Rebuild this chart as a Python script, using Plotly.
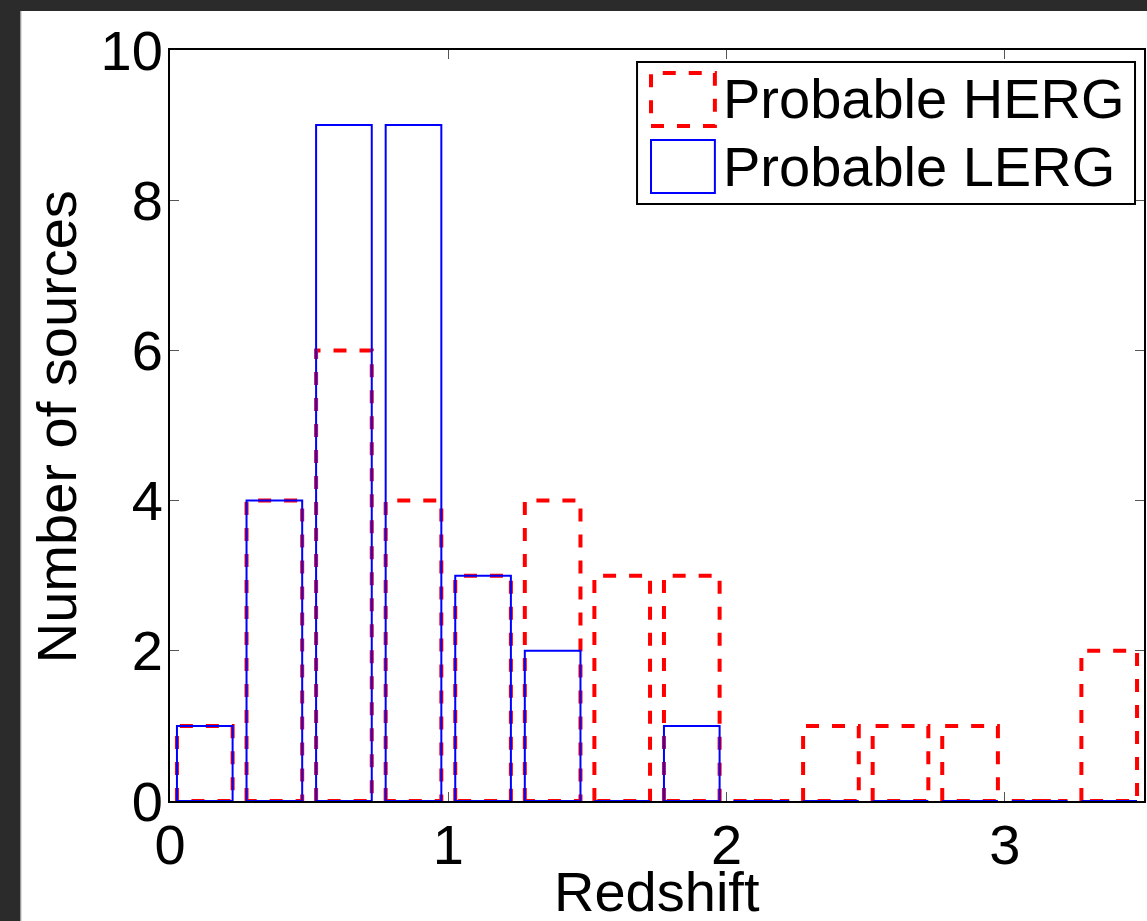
import plotly.graph_objects as go

# ---- data ----
bin_centers = [0.125, 0.375, 0.625, 0.875, 1.125, 1.375, 1.625,
               1.875, 2.125, 2.375, 2.625, 2.875, 3.125, 3.375]
herg_counts = [1, 4, 6, 4, 3, 4, 3, 3, 0, 1, 1, 1, 0, 2]
lerg_counts = [1, 4, 9, 9, 3, 2, 0, 1, 0, 0, 0, 0, 0, 0]
series_names = ["Probable HERG", "Probable LERG"]
x_ticks = [0, 1, 2, 3]
y_ticks = [0, 2, 4, 6, 8, 10]
x_title = "Redshift"
y_title = "Number of sources"

# ---- style ----
BAR_WIDTH = 0.2
FONT = "Liberation Sans, Arial, Helvetica, sans-serif"
FS = 56
W, H = 1147, 921
ML, MR, MT, MB = 170, 1, 50, 120


def outline(centers, heights, width):
    xs, ys = [], []
    for c, h in zip(centers, heights):
        x0, x1 = c - width / 2, c + width / 2
        xs += [x0, x0, x1, x1, x0, None]
        ys += [0, h, h, 0, 0, None]
    return xs, ys


fig = go.Figure()
hx, hy = outline(bin_centers, herg_counts, BAR_WIDTH)
lx, ly = outline(bin_centers, lerg_counts, BAR_WIDTH)
fig.add_trace(go.Scatter(x=hx, y=hy, mode="lines", name=series_names[0],
                         line=dict(color="#ff0000", width=4, dash="13px,13px"),
                         showlegend=False, hoverinfo="skip"))
fig.add_trace(go.Scatter(x=lx, y=ly, mode="lines", name=series_names[1],
                         line=dict(color="#0000ff", width=2),
                         showlegend=False, hoverinfo="skip"))

pw = W - ML - MR
ph = H - MT - MB


def px(x):
    return (x - ML) / pw


def py(y):
    return (H - MB - y) / ph


shapes = [
    # white page over dark frame
    dict(type="rect", xref="paper", yref="paper", layer="below",
         x0=px(20), x1=px(W + 5), y0=py(H + 5), y1=py(11),
         fillcolor="white", line=dict(width=0)),
    dict(type="line", xref="paper", yref="paper", layer="below",
         x0=px(20.5), x1=px(20.5), y0=py(H + 5), y1=py(11),
         line=dict(color="#8a8a8a", width=1)),
    # legend box
    dict(type="rect", xref="paper", yref="paper",
         x0=px(638), x1=px(1137), y0=py(204), y1=py(62),
         fillcolor="white", line=dict(color="black", width=2)),
    dict(type="rect", xref="paper", yref="paper",
         x0=px(652), x1=px(716), y0=py(126), y1=py(73),
         line=dict(color="#ff0000", width=4, dash="13px,13px")),
    dict(type="rect", xref="paper", yref="paper",
         x0=px(652), x1=px(716), y0=py(193), y1=py(140),
         line=dict(color="#0000ff", width=2)),
]

annotations = [
    dict(xref="paper", yref="paper", x=px(722), y=py(99), xanchor="left",
         yanchor="middle", text=series_names[0], showarrow=False,
         font=dict(family=FONT, size=FS, color="black")),
    dict(xref="paper", yref="paper", x=px(722), y=py(166), xanchor="left",
         yanchor="middle", text=series_names[1], showarrow=False,
         font=dict(family=FONT, size=FS, color="black")),
    dict(xref="paper", yref="paper", x=px(658), y=py(891), xanchor="center",
         yanchor="middle", text=x_title, showarrow=False,
         font=dict(family=FONT, size=FS, color="black")),
    dict(xref="paper", yref="paper", x=px(56), y=py(427), xanchor="center",
         yanchor="middle", text=y_title, showarrow=False, textangle=-90,
         font=dict(family=FONT, size=FS, color="black")),
]

axis_common = dict(
    showline=True, linecolor="black", linewidth=2, mirror="allticks",
    ticks="inside", ticklen=9, tickwidth=1, tickcolor="#555555",
    showgrid=False, zeroline=False,
    tickfont=dict(family=FONT, size=FS, color="black"),
)

fig.update_layout(
    width=W, height=H,
    margin=dict(l=ML, r=MR, t=MT, b=MB, pad=0),
    paper_bgcolor="#2b2b2b", plot_bgcolor="white",
    font=dict(family=FONT, size=FS, color="black"),
    shapes=shapes, annotations=annotations,
    xaxis=dict(range=[0, 3.5], tickvals=x_ticks, ticktext=[str(t) for t in x_ticks],
               ticklabelstandoff=-6,
               **axis_common),
    yaxis=dict(range=[0, 10], tickvals=y_ticks, ticktext=[str(t) for t in y_ticks],
               ticklabelstandoff=-6,
               **axis_common),
)

fig.write_html("out.html")
